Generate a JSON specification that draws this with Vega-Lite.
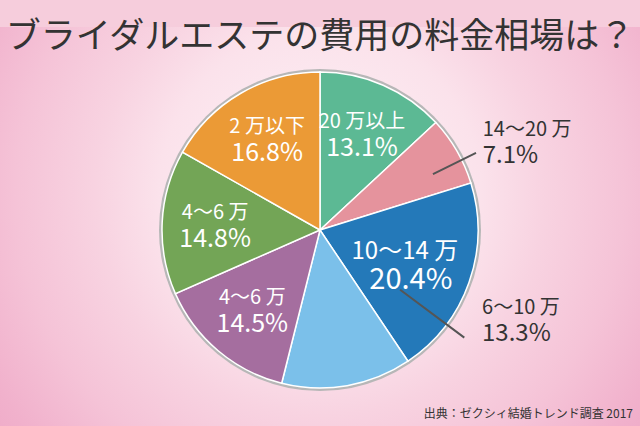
{
  "$schema": "https://vega.github.io/schema/vega-lite/v6.json",
  "padding": {"left": 0, "right": 0, "top": 20, "bottom": 0},
  "background": "#f6cddc",
  "title": {
    "text": "ブライダルエステの費用の料金相場は？",
    "fontSize": 35,
    "font": "Noto Sans CJK JP",
    "fontWeight": "normal",
    "color": "#333333",
    "anchor": "middle",
    "offset": -28
  },
  "datasets": {
    "cost": [
      {"no": 1, "label": "20 万以上", "share": 0.131},
      {"no": 2, "label": "14〜20 万", "share": 0.071},
      {"no": 3, "label": "10〜14 万", "share": 0.204},
      {"no": 4, "label": "6〜10 万", "share": 0.133},
      {"no": 5, "label": "4〜6 万", "share": 0.145},
      {"no": 6, "label": "4〜6 万", "share": 0.148},
      {"no": 7, "label": "2 万以下", "share": 0.168}
    ]
  },
  "vconcat": [
    {
      "width": 640,
      "height": 406,
      "view": {
        "stroke": null,
        "fill": {
          "gradient": "radial",
          "x1": 0.5, "y1": 0.44, "r1": 0,
          "x2": 0.5, "y2": 0.44, "r2": 0.7,
          "stops": [
            {"offset": 0, "color": "#fdf3f7"},
            {"offset": 0.36, "color": "#fbe2eb"},
            {"offset": 0.5, "color": "#f8d3e1"},
            {"offset": 0.68, "color": "#f5c3d7"},
            {"offset": 0.84, "color": "#f1b1cc"},
            {"offset": 1, "color": "#eea4c4"}
          ]
        }
      },
      "title": {
        "text": "出典：ゼクシィ結婚トレンド調査 2017",
        "orient": "bottom",
        "anchor": "end",
        "fontSize": 12,
        "font": "Noto Sans CJK JP",
        "fontWeight": "normal",
        "color": "#333333",
        "offset": -39,
        "dx": -7
      },
      "data": {"name": "cost"},
      "layer": [
        {
          "mark": {"type": "arc", "radius": 161, "color": "#b7b7b7"},
          "encoding": {
            "theta": {"aggregate": "sum", "field": "share", "type": "quantitative"}
          }
        },
        {
          "mark": {"type": "arc", "radius": 158, "stroke": "#ffffff", "strokeWidth": 1.5},
          "encoding": {
            "theta": {"field": "share", "type": "quantitative", "stack": true},
            "order": {"field": "no", "type": "quantitative"},
            "color": {
              "field": "no",
              "type": "nominal",
              "scale": {
                "domain": [1, 2, 3, 4, 5, 6, 7],
                "range": ["#5cb994", "#e5939d", "#2479b9", "#7bc0ea", "#a56e9f", "#73a556", "#eb9a36"]
              },
              "legend": null
            }
          }
        },
        {
          "mark": {"type": "text", "radius": 105, "dy": -6, "color": "#ffffff", "font": "Noto Sans CJK JP", "align": "center", "baseline": "alphabetic", "fontSize": 20},
          "encoding": {
            "theta": {"field": "share", "type": "quantitative", "stack": true},
            "order": {"field": "no", "type": "quantitative"},
            "text": {"field": "label", "type": "nominal"},
            "opacity": {"condition": {"test": "datum.no !== 2 && datum.no !== 3 && datum.no !== 4", "value": 1}, "value": 0}
          }
        },
        {
          "mark": {"type": "text", "radius": 105, "dy": 22, "color": "#ffffff", "font": "Noto Sans CJK JP", "align": "center", "baseline": "alphabetic", "fontSize": 25},
          "encoding": {
            "theta": {"field": "share", "type": "quantitative", "stack": true},
            "order": {"field": "no", "type": "quantitative"},
            "text": {"field": "share", "type": "quantitative", "format": ".1%"},
            "opacity": {"condition": {"test": "datum.no !== 2 && datum.no !== 3 && datum.no !== 4", "value": 1}, "value": 0}
          }
        },
        {
          "mark": {"type": "text", "radius": 90, "dy": -1, "color": "#ffffff", "font": "Noto Sans CJK JP", "align": "center", "baseline": "alphabetic", "fontSize": 24},
          "encoding": {
            "theta": {"field": "share", "type": "quantitative", "stack": true},
            "order": {"field": "no", "type": "quantitative"},
            "text": {"field": "label", "type": "nominal"},
            "opacity": {"condition": {"test": "datum.no === 3", "value": 1}, "value": 0}
          }
        },
        {
          "mark": {"type": "text", "radius": 90, "dy": 29, "dx": 6, "color": "#ffffff", "font": "Noto Sans CJK JP", "align": "center", "baseline": "alphabetic", "fontSize": 29},
          "encoding": {
            "theta": {"field": "share", "type": "quantitative", "stack": true},
            "order": {"field": "no", "type": "quantitative"},
            "text": {"field": "share", "type": "quantitative", "format": ".1%"},
            "opacity": {"condition": {"test": "datum.no === 3", "value": 1}, "value": 0}
          }
        },
        {
          "mark": {"type": "text", "radius": 188, "dy": 0, "color": "#333333", "font": "Noto Sans CJK JP", "align": "left", "baseline": "alphabetic", "fontSize": 20},
          "encoding": {
            "theta": {"field": "share", "type": "quantitative", "stack": true},
            "order": {"field": "no", "type": "quantitative"},
            "text": {"field": "label", "type": "nominal"},
            "opacity": {"condition": {"test": "datum.no === 2", "value": 1}, "value": 0}
          }
        },
        {
          "mark": {"type": "text", "radius": 188, "dy": 27.5, "color": "#333333", "font": "Noto Sans CJK JP", "align": "left", "baseline": "alphabetic", "fontSize": 24},
          "encoding": {
            "theta": {"field": "share", "type": "quantitative", "stack": true},
            "order": {"field": "no", "type": "quantitative"},
            "text": {"field": "share", "type": "quantitative", "format": ".1%"},
            "opacity": {"condition": {"test": "datum.no === 2", "value": 1}, "value": 0}
          }
        },
        {
          "transform": [{"filter": "datum.no === 4"}],
          "mark": {"type": "text", "radius": 182.5, "dy": 0, "color": "#333333", "font": "Noto Sans CJK JP", "align": "left", "baseline": "alphabetic", "fontSize": 20},
          "encoding": {
            "theta": {"datum": 0.3261, "type": "quantitative"},
            "text": {"field": "label", "type": "nominal"}
          }
        },
        {
          "transform": [{"filter": "datum.no === 4"}],
          "mark": {"type": "text", "radius": 182.5, "dy": 27, "color": "#333333", "font": "Noto Sans CJK JP", "align": "left", "baseline": "alphabetic", "fontSize": 24},
          "encoding": {
            "theta": {"datum": 0.3261, "type": "quantitative"},
            "text": {"field": "share", "type": "quantitative", "format": ".1%"}
          }
        },
        {
          "transform": [{"filter": "datum.no === 2"}],
          "mark": {"type": "arc", "radius": 174, "radius2": 126, "filled": false, "stroke": "#555555", "strokeWidth": 2},
          "encoding": {
            "theta": {"datum": 0.177, "type": "quantitative"},
            "theta2": {"datum": 0.177}
          }
        },
        {
          "transform": [{"filter": "datum.no === 4"}],
          "mark": {"type": "arc", "radius": 180, "radius2": 100, "filled": false, "stroke": "#555555", "strokeWidth": 2},
          "encoding": {
            "theta": {"datum": 0.352, "type": "quantitative"},
            "theta2": {"datum": 0.352}
          }
        }
      ]
    }
  ],
  "config": {
    "concat": {"spacing": 0},
    "view": {"stroke": null}
  }
}
